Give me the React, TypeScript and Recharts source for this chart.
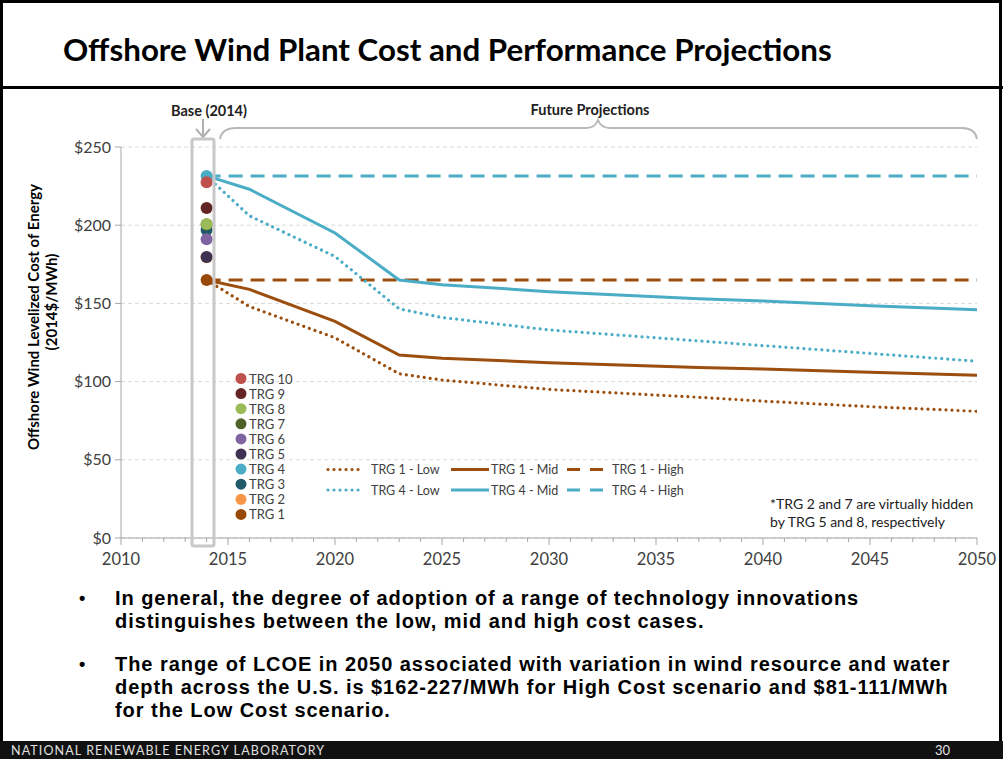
import {
  CartesianGrid,
  ComposedChart,
  Line,
  Scatter,
  XAxis,
  YAxis,
} from "recharts";

// axis ticks
const labelledYears = [2010, 2015, 2020, 2025, 2030, 2035, 2040, 2045, 2050];
const yTicks = [0, 50, 100, 150, 200, 250];

// base-year (2014) LCOE per TRG, $/MWh
const trgNames = ["TRG 1", "TRG 2", "TRG 3", "TRG 4", "TRG 5", "TRG 6", "TRG 7", "TRG 8", "TRG 9", "TRG 10"];
const trgColors = ["#984807", "#F79646", "#215968", "#4BACC6", "#3F3151", "#8064A2", "#4F6228", "#9BBB59", "#632523", "#C0504D"];
const trgBase2014 = [165, 179.5, 197, 231.5, 179.7, 191, 200.5, 200.8, 211, 227.5];

// projections
const projYears = [2014, 2016, 2020, 2023, 2025, 2030, 2037, 2040, 2045, 2050];
const trg1Low = [165, 148, 128, 105, 101, 95, 90, 87.5, 84, 81];
const trg1Mid = [165, 159, 138.5, 117, 115, 112, 109, 108, 106, 104];
const trg4Low = [231.5, 206, 180, 146.5, 141, 133, 126, 123, 118, 113];
const trg4Mid = [231.5, 223, 195, 165, 162, 157.5, 153, 151.5, 148.5, 146];
const highYears = [2014, 2050];
const trg1High = [165, 165];
const trg4High = [231.5, 231.5];

const BROWN = "#9B4E0D";
const CYAN = "#4BACC6";
const FONT = "Lato, 'Open Sans', sans-serif";
const BODY_FONT = "'Liberation Sans', Arial, sans-serif";

const toPts = (xs: number[], vs: number[]) => xs.map((year, i) => ({ year, v: vs[i] }));

type Style = "low" | "mid" | "high";
const seriesDefs: { name: string; years: number[]; vals: number[]; color: string; style: Style }[] = [
  { name: "TRG 1 - Low", years: projYears, vals: trg1Low, color: BROWN, style: "low" },
  { name: "TRG 1 - Mid", years: projYears, vals: trg1Mid, color: BROWN, style: "mid" },
  { name: "TRG 1 - High", years: highYears, vals: trg1High, color: BROWN, style: "high" },
  { name: "TRG 4 - Low", years: projYears, vals: trg4Low, color: CYAN, style: "low" },
  { name: "TRG 4 - Mid", years: projYears, vals: trg4Mid, color: CYAN, style: "mid" },
  { name: "TRG 4 - High", years: highYears, vals: trg4High, color: CYAN, style: "high" },
];

function lineProps(style: Style) {
  if (style === "low") return { strokeWidth: 3.2, strokeDasharray: "0.01 6", strokeLinecap: "round" as const };
  if (style === "high") return { strokeWidth: 3, strokeDasharray: "14 8" };
  return { strokeWidth: 3 };
}

const allYears: number[] = [];
for (let y = 2010; y <= 2050; y++) allYears.push(y);

function YearTick(props: any) {
  const { x, y, payload } = props;
  const major = labelledYears.includes(payload.value);
  return (
    <g>
      <line x1={x} x2={x} y1={y} y2={y + (major ? 7 : 4)} stroke="#a6a6a6" strokeWidth={1} />
      {major && (
        <text x={x} y={y + 27} textAnchor="middle" fontSize={16.5} fill="#404040" fontFamily={FONT}>
          {payload.value}
        </text>
      )}
    </g>
  );
}

const bullets = [
  ["In general, the degree of adoption of a range of technology innovations", "distinguishes between the low, mid and high cost cases."],
  [
    "The range of LCOE in 2050 associated with variation in wind resource and water",
    "depth across the U.S. is $162-227/MWh for High Cost  scenario and  $81-111/MWh",
    "for the Low Cost scenario.",
  ],
];

export default function App() {
  return (
    <div style={{ position: "absolute", left: 0, top: 0, width: 1003, height: 759, background: "#fff", overflow: "hidden" }}>
      <div style={{ position: "absolute", left: 0, top: 0 }}>
        <ComposedChart width={1003} height={759} margin={{ top: 147, right: 26, bottom: 191, left: 61 }}>
          <CartesianGrid horizontal vertical={false} stroke="#d9d9d9" strokeDasharray="4 3" />
          <XAxis
            type="number"
            dataKey="year"
            domain={[2010, 2050]}
            ticks={allYears}
            interval={0}
            tick={<YearTick />}
            tickLine={false}
            tickSize={0}
            tickMargin={0}
            axisLine={{ stroke: "#a6a6a6", strokeWidth: 1 }}
            height={30}
            allowDataOverflow
          />
          <YAxis
            type="number"
            dataKey="v"
            domain={[0, 250]}
            ticks={yTicks}
            tickFormatter={(v: number) => `$${v}`}
            width={60}
            tickSize={6}
            tickMargin={4}
            tick={{ fill: "#404040", fontSize: 16, fontFamily: FONT }}
            tickLine={{ stroke: "#a6a6a6" }}
            axisLine={{ stroke: "#a6a6a6", strokeWidth: 1 }}
          />
          {seriesDefs.map((s) => (
            <Line
              key={s.name}
              data={toPts(s.years, s.vals)}
              dataKey="v"
              type="linear"
              stroke={s.color}
              dot={false}
              activeDot={false}
              isAnimationActive={false}
              {...lineProps(s.style)}
            />
          ))}
          {trgNames.map((n, i) => (
            <Scatter
              key={n}
              name={n}
              data={[{ year: 2014, v: trgBase2014[i] }]}
              dataKey="v"
              fill={trgColors[i]}
              isAnimationActive={false}
              shape={(p: any) => <circle cx={p.cx} cy={p.cy} r={6} fill={trgColors[i]} />}
            />
          ))}
        </ComposedChart>
      </div>
      <svg width={1003} height={759} style={{ position: "absolute", left: 0, top: 0, pointerEvents: "none" }}>
        {/* slide frame */}
        <rect x={1.5} y={1.5} width={999} height={756} fill="none" stroke="#000" strokeWidth={3} />
        <line x1={0} x2={1003} y1={87.5} y2={87.5} stroke="#000" strokeWidth={3} />
        <text x={63} y={61} fontSize={31.3} fontWeight={700} fontFamily={FONT} fill="#000">
          Offshore Wind Plant Cost and Performance Projections
        </text>

        {/* y label */}
        <g transform="translate(33,317) rotate(-90)">
          <text x={0} y={0} textAnchor="middle" dominantBaseline="central" fontSize={15} fontWeight={700} fontFamily={FONT} fill="#000">
            Offshore Wind Levelized Cost of Energy
          </text>
        </g>
        <g transform="translate(51,302) rotate(-90)">
          <text x={0} y={0} textAnchor="middle" dominantBaseline="central" fontSize={15} fontWeight={700} fontFamily={FONT} fill="#000">
            (2014$/MWh)
          </text>
        </g>

        {/* base annotation */}
        <text x={209} y={110} textAnchor="middle" dominantBaseline="central" fontSize={14.5} fontWeight={700} fontFamily={FONT} fill="#222">
          Base (2014)
        </text>
        <line x1={203} x2={203} y1={119} y2={137} stroke="#b0b0b0" strokeWidth={2} />
        <polyline points="196,129 203,137 210,129" fill="none" stroke="#b0b0b0" strokeWidth={2} />
        <rect x={192} y={139} width={22} height={407} rx={2} fill="none" stroke="#c8c8c8" strokeWidth={3} />

        {/* future projections brace */}
        <text x={590} y={109} textAnchor="middle" dominantBaseline="central" fontSize={14.5} fontWeight={700} fontFamily={FONT} fill="#222">
          Future Projections
        </text>
        <path
          d="M220,139 Q222,128 236,128 L586,128 Q595,128 598,120 Q601,128 610,128 L962,128 Q975,128 977,139"
          fill="none"
          stroke="#b8b8b8"
          strokeWidth={2}
        />

        {/* TRG legend */}
        {trgNames
          .map((n, i) => ({ n, c: trgColors[i] }))
          .reverse()
          .map((d, k) => (
            <g key={d.n}>
              <circle cx={241} cy={378.5 + k * 15.1} r={5.5} fill={d.c} />
              <text x={249} y={378.5 + k * 15.1} dominantBaseline="central" fontSize={13} fontFamily={FONT} fill="#404040">
                {d.n}
              </text>
            </g>
          ))}

        {/* line legend */}
        {seriesDefs.map((s, i) => {
          const col = i % 3;
          const row = Math.floor(i / 3);
          const x0 = [328, 451, 567][col];
          const x1 = [364, 489, 603][col];
          const tx = [371, 491, 612][col];
          const y = [469.5, 490][row];
          return (
            <g key={s.name}>
              <line x1={x0} x2={x1} y1={y} y2={y} stroke={s.color} {...lineProps(s.style)} strokeDasharray={s.style === "high" ? "13 10" : lineProps(s.style).strokeDasharray} />
              <text x={tx} y={y} dominantBaseline="central" fontSize={12.5} fontFamily={FONT} fill="#404040">
                {s.name}
              </text>
            </g>
          );
        })}

        {/* footnote */}
        <text x={770} y={503} dominantBaseline="central" fontSize={14} fontFamily={FONT} fill="#222">
          *TRG 2 and 7 are  virtually hidden
        </text>
        <text x={770} y={521} dominantBaseline="central" fontSize={14} fontFamily={FONT} fill="#222">
          by TRG 5 and 8, respectively
        </text>

        {/* bullets */}
        {(() => {
          const rows: any[] = [];
          const ys = [[598, 621], [664, 687, 710]];
          bullets.forEach((b, bi) => {
            rows.push(
              <text key={`b${bi}`} x={79} y={ys[bi][0]} dominantBaseline="central" fontSize={18} fontWeight={700} fontFamily={BODY_FONT} fill="#000">
                •
              </text>
            );
            b.forEach((t, li) =>
              rows.push(
                <text key={`t${bi}-${li}`} x={115} y={ys[bi][li]} dominantBaseline="central" fontSize={20} letterSpacing={0.95} fontWeight={700} fontFamily={BODY_FONT} fill="#000">
                  {t}
                </text>
              )
            );
          });
          return rows;
        })()}

        {/* footer */}
        <rect x={0} y={741} width={1003} height={18} fill="#111" />
        <text x={11} y={750} dominantBaseline="central" fontSize={12.5} letterSpacing={1.1} fontFamily={FONT} fill="#e0e0e0">
          NATIONAL RENEWABLE ENERGY LABORATORY
        </text>
        <text x={935} y={750} dominantBaseline="central" fontSize={13} fontFamily={FONT} fill="#e0e0e0">
          30
        </text>
      </svg>
    </div>
  );
}
